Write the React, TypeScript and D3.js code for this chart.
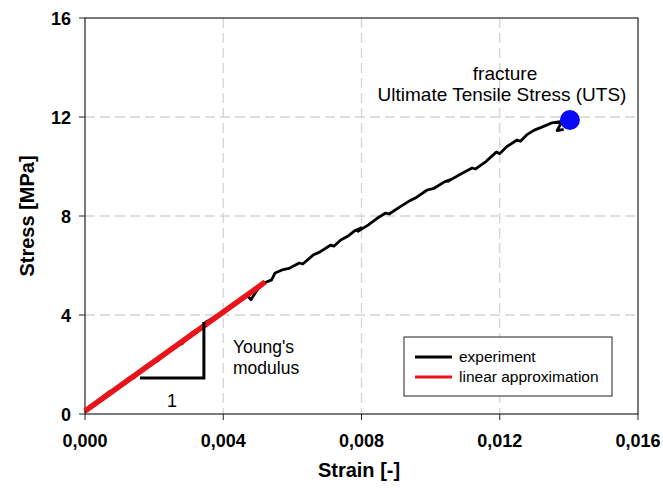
import React from "react";
import * as d3 from "d3";

// strain [-] / stress [MPa]
const expStrain = [
  0.0, 0.0004, 0.0007, 0.0008, 0.0011, 0.0013, 0.0014, 0.0017, 0.002, 0.0021,
  0.0024, 0.0027, 0.0028, 0.0031, 0.0034, 0.0035, 0.0038, 0.0041, 0.0043,
  0.0045, 0.0047, 0.0048, 0.005, 0.0052, 0.0054, 0.0055, 0.0057, 0.0059,
  0.0062, 0.0063, 0.0066, 0.0068, 0.0071, 0.0072, 0.0074, 0.0076, 0.0078,
  0.008, 0.0079, 0.0082, 0.0085, 0.0087, 0.0088, 0.0091, 0.0094, 0.0096,
  0.0099, 0.0101, 0.0104, 0.0106, 0.0105, 0.0109, 0.0112, 0.0113, 0.0116,
  0.0119, 0.012, 0.0122, 0.0125, 0.0126, 0.0128, 0.013, 0.0132, 0.0135,
  0.0138, 0.01366, 0.01385,
];
const expStress = [
  0.08, 0.55, 0.9, 0.88, 1.25, 1.47, 1.45, 1.85, 2.15, 2.14, 2.55, 2.85, 2.83,
  3.28, 3.55, 3.72, 3.95, 4.22, 4.45, 4.6, 4.78, 4.62, 5.05, 5.3, 5.42, 5.7,
  5.82, 5.88, 6.1, 6.06, 6.42, 6.55, 6.82, 6.78, 7.03, 7.18, 7.4, 7.52, 7.38,
  7.64, 7.95, 8.12, 8.08, 8.36, 8.62, 8.76, 9.05, 9.12, 9.38, 9.48, 9.4, 9.72,
  9.94, 9.9, 10.2, 10.58, 10.52, 10.8, 11.07, 11.02, 11.3, 11.47, 11.58,
  11.76, 11.82, 11.45, 11.5,
];
const linStrain = [0.0, 0.00521];
const linStress = [0.12, 5.33];
const fracture = { strain: 0.01403, stress: 11.88 };
// slope triangle corners
const triStrain = [0.00159, 0.00344, 0.00344];
const triStress = [1.45, 1.45, 3.72];

const xTicks = [0, 0.004, 0.008, 0.012, 0.016];
const yTicks = [0, 4, 8, 12, 16];
const legendItems = [
  { label: "experiment", color: "#000000" },
  { label: "linear approximation", color: "#e8141a" },
];

const font = "Arial, 'Liberation Sans', sans-serif";

export default function App() {
  const width = 663;
  const height = 491;
  const left = 85,
    right = 638,
    top = 18,
    bottom = 414;

  const x = d3.scaleLinear().domain([0, 0.016]).range([left, right]);
  const y = d3.scaleLinear().domain([0, 16]).range([bottom, top]);
  const fmt = (v: number) => d3.format(".3f")(v).replace(".", ",");

  const line = d3
    .line<number>()
    .x((d, i) => x(expStrain[i]))
    .y((d) => y(d));
  const linLine = d3
    .line<number>()
    .x((d, i) => x(linStrain[i]))
    .y((d) => y(d));
  const triLine = d3
    .line<number>()
    .x((d, i) => x(triStrain[i]))
    .y((d) => y(d));

  return (
    <svg
      width={width}
      height={height}
      style={{ position: "absolute", left: 0, top: 0, background: "#fff" }}
      fontFamily={font}
    >
      {/* grid */}
      {xTicks.slice(1, -1).map((t) => (
        <line
          key={"gx" + t}
          x1={x(t)}
          x2={x(t)}
          y1={top}
          y2={bottom}
          stroke="#d4d4d4"
          strokeWidth={1.3}
          strokeDasharray="10,5"
        />
      ))}
      {yTicks.slice(1, -1).map((t) => (
        <line
          key={"gy" + t}
          x1={left}
          x2={right}
          y1={y(t)}
          y2={y(t)}
          stroke="#d4d4d4"
          strokeWidth={1.3}
          strokeDasharray="10,5"
        />
      ))}

      {/* frame */}
      <rect
        x={left}
        y={top}
        width={right - left}
        height={bottom - top}
        fill="none"
        stroke="#222"
        strokeWidth={1.2}
      />

      {/* ticks */}
      {xTicks.map((t) => (
        <g key={"xt" + t}>
          <line x1={x(t)} x2={x(t)} y1={bottom} y2={bottom + 6} stroke="#222" />
          <text
            x={x(t)}
            y={447}
            textAnchor="middle"
            fontSize={18}
            fontWeight="bold"
          >
            {fmt(t)}
          </text>
        </g>
      ))}
      {yTicks.map((t) => (
        <g key={"yt" + t}>
          <line x1={left - 6} x2={left} y1={y(t)} y2={y(t)} stroke="#222" />
          <text
            x={71}
            y={y(t) + 6.5}
            textAnchor="end"
            fontSize={18}
            fontWeight="bold"
          >
            {t}
          </text>
        </g>
      ))}

      {/* axis titles */}
      <text
        x={359}
        y={477}
        textAnchor="middle"
        fontSize={20}
        fontWeight="bold"
      >
        Strain [-]
      </text>
      <text
        transform={`translate(34,${(top + bottom) / 2}) rotate(-90)`}
        textAnchor="middle"
        fontSize={20}
        fontWeight="bold"
      >
        Stress [MPa]
      </text>

      {/* experiment */}
      <path
        d={line(expStress) || ""}
        fill="none"
        stroke="#000"
        strokeWidth={2.8}
        strokeLinejoin="round"
      />
      {/* linear approximation */}
      <path
        d={linLine(linStress) || ""}
        fill="none"
        stroke="#e8141a"
        strokeWidth={5.5}
      />
      {/* slope triangle */}
      <path
        d={triLine(triStress) || ""}
        fill="none"
        stroke="#000"
        strokeWidth={3}
      />
      <text
        x={(x(triStrain[0]) + x(triStrain[1])) / 2}
        y={407}
        textAnchor="middle"
        fontSize={18}
      >
        1
      </text>
      <text x={233} y={353} fontSize={17.5}>
        Young's
      </text>
      <text x={233} y={374} fontSize={17.5}>
        modulus
      </text>

      {/* fracture */}
      <circle
        cx={x(fracture.strain)}
        cy={y(fracture.stress)}
        r={10}
        fill="#0a0af2"
      />
      <text x={505} y={80} textAnchor="middle" fontSize={19}>
        fracture
      </text>
      <text x={502} y={101} textAnchor="middle" fontSize={19}>
        Ultimate Tensile Stress (UTS)
      </text>

      {/* legend */}
      <rect
        x={404}
        y={337}
        width={208}
        height={59}
        fill="#fff"
        stroke="#222"
        strokeWidth={1}
      />
      {legendItems.map((d, i) => (
        <g key={d.label}>
          <line
            x1={415}
            x2={452}
            y1={357 + i * 20}
            y2={357 + i * 20}
            stroke={d.color}
            strokeWidth={3}
          />
          <text x={459} y={362 + i * 20} fontSize={15.5}>
            {d.label}
          </text>
        </g>
      ))}
    </svg>
  );
}
